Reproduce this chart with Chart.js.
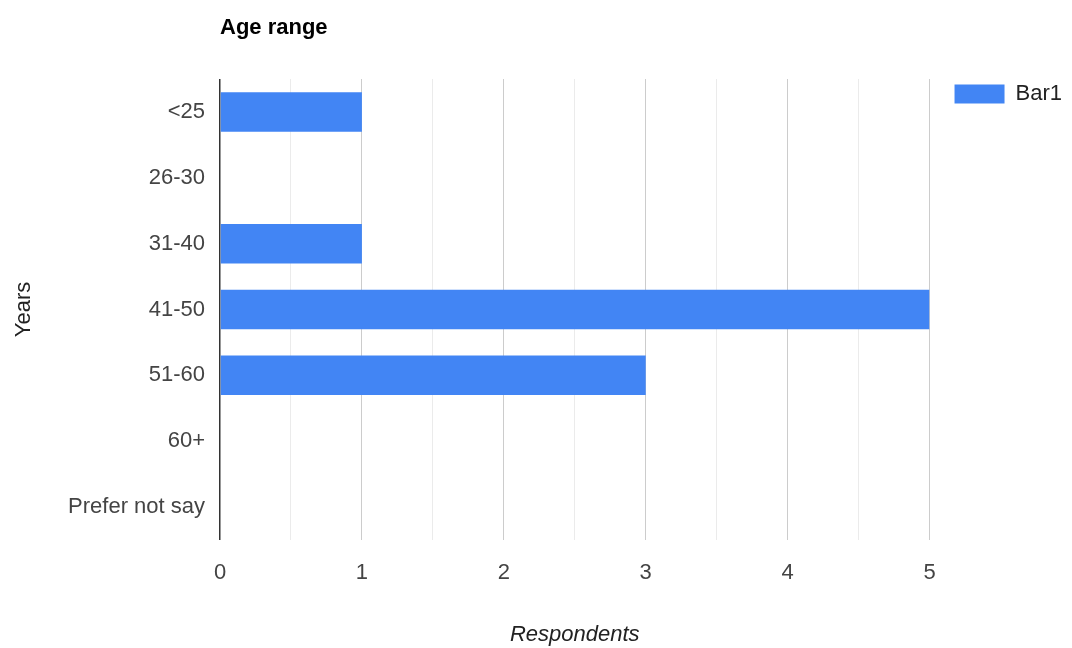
<!DOCTYPE html>
<html>
<head>
<meta charset="utf-8">
<script src="https://cdn.jsdelivr.net/npm/chart.js@4.4.1/dist/chart.umd.min.js"></script>
<style>
  html, body { margin: 0; padding: 0; background: #fff; }
  #wrap { width: 1072px; height: 648px; }
</style>
</head>
<body>
<div id="wrap"><canvas id="ageChart" width="1072" height="648"></canvas></div>
<script>
// Chart data
const categories = ['<25', '26-30', '31-40', '41-50', '51-60', '60+', 'Prefer not say'];
const respondents = [1, 0, 1, 5, 3, 0, 0];
const seriesName = 'Bar1';
const xTicks = [0, 1, 2, 3, 4, 5];

const FONT = '"Liberation Sans", Arial, sans-serif';

// Title drawn over the left edge of the plot area
const titlePlugin = {
    id: 'leftTitle',
    afterDraw(chart) {
        const ctx = chart.ctx;
        ctx.save();
        ctx.font = 'bold 22px ' + FONT;
        ctx.fillStyle = '#000';
        ctx.textBaseline = 'middle';
        ctx.textAlign = 'left';
        ctx.fillText('Age range', chart.chartArea.left, 28);
        ctx.restore();
    }
};

new Chart(document.getElementById('ageChart').getContext('2d'), {
    type: 'bar',
    data: {
        labels: categories,
        datasets: [{
            label: seriesName,
            data: respondents,
            backgroundColor: '#4285f4',
            borderWidth: 0,
            categoryPercentage: 0.6,
            barPercentage: 1
        }]
    },
    options: {
        indexAxis: 'y',
        responsive: false,
        animation: false,
        layout: { padding: { top: 79, right: 0, bottom: 0, left: 0 } },
        plugins: {
            legend: {
                position: 'right',
                align: 'start',
                labels: {
                    boxWidth: 50,
                    boxHeight: 19,
                    padding: 4,
                    color: '#222',
                    font: { family: FONT, size: 22 }
                }
            },
            tooltip: { enabled: false }
        },
        scales: {
            x: {
                min: 0,
                max: 5,
                afterFit: s => { s.height = 108; },
                afterBuildTicks: s => {
                    const t = [];
                    for (let v = 0; v <= 5; v += 0.5) t.push({ value: v });
                    s.ticks = t;
                },
                ticks: {
                    padding: 20,
                    color: '#444',
                    font: { family: FONT, size: 22 },
                    autoSkip: false,
                    maxRotation: 0,
                    callback: v => xTicks.includes(v) ? String(v) : ''
                },
                grid: {
                    drawTicks: false,
                    color: c => c.tick.value === 0 ? '#333333' :
                        (Number.isInteger(c.tick.value) ? '#cccccc' : '#ebebeb'),
                    lineWidth: c => c.tick.value === 0 ? 1.5 : 1
                },
                border: { display: false },
                title: {
                    display: true,
                    text: 'Respondents',
                    color: '#222',
                    padding: { top: 3, bottom: 0 },
                    font: { family: FONT, size: 22, style: 'italic' }
                }
            },
            y: {
                afterFit: s => { s.width = 220; },
                ticks: {
                    padding: 15,
                    color: '#444',
                    font: { family: FONT, size: 22 }
                },
                grid: { display: false, drawTicks: false },
                border: { display: false },
                title: {
                    display: true,
                    text: 'Years',
                    color: '#222',
                    padding: { top: 11, bottom: 0 },
                    font: { family: FONT, size: 22 }
                }
            },
            // empty spacer between the plot and the legend
            gap: {
                type: 'category',
                axis: 'y',
                position: 'right',
                afterFit: s => { s.width = 21; },
                ticks: { display: false },
                grid: { display: false, drawTicks: false },
                border: { display: false }
            }
        }
    },
    plugins: [titlePlugin]
});
</script>
</body>
</html>
